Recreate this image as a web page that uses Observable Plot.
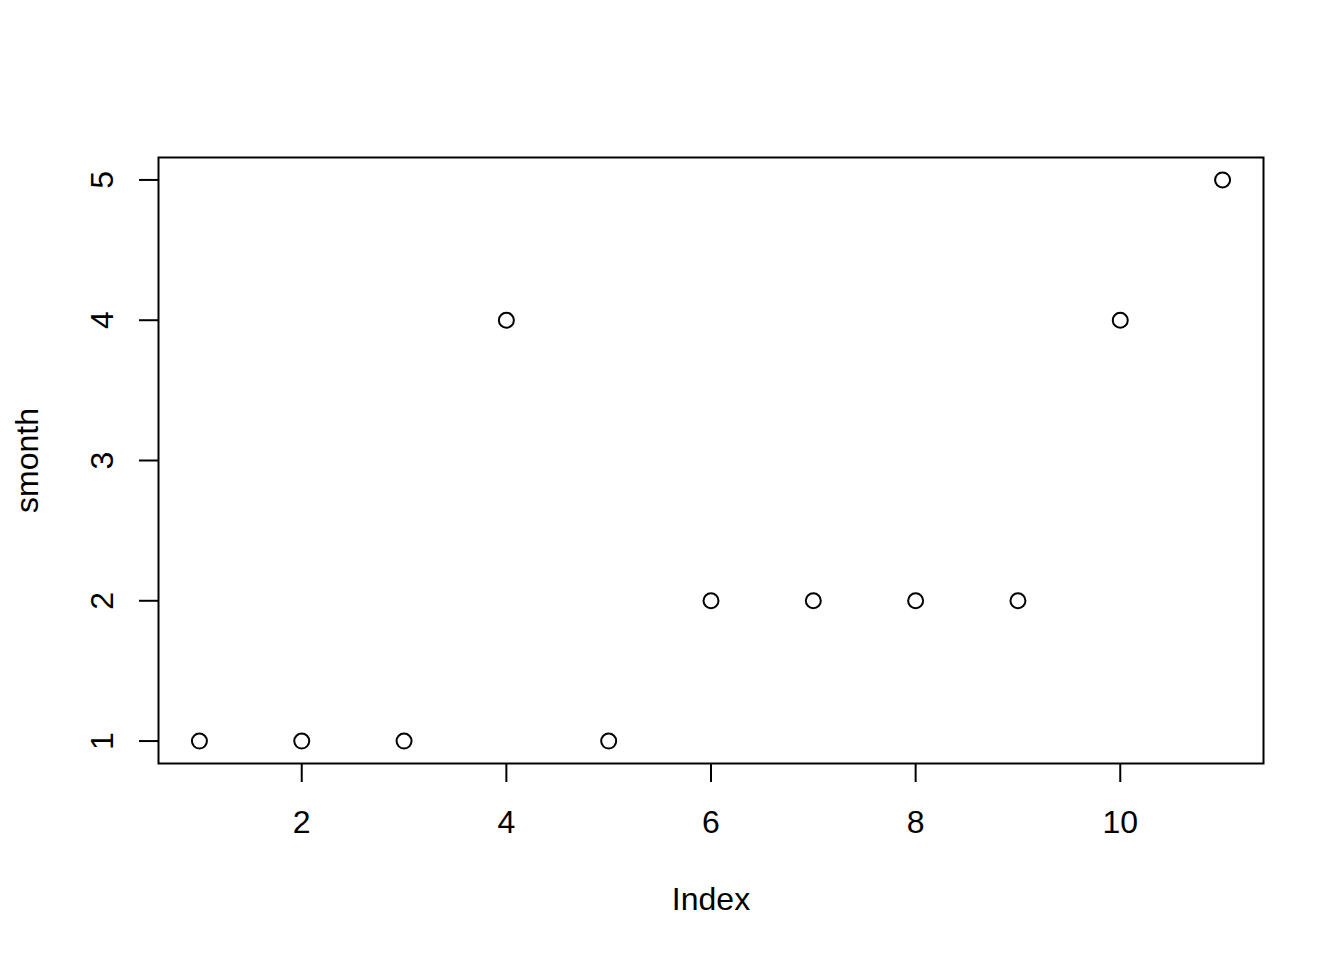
<!DOCTYPE html>
<html>
<head>
<meta charset="utf-8">
<script src="https://cdn.jsdelivr.net/npm/d3@7"></script>
<script src="https://cdn.jsdelivr.net/npm/@observablehq/plot@0.6"></script>
<style>
  html, body { margin: 0; padding: 0; background: #fff; }
</style>
</head>
<body>
<div id="chart"></div>
<script>
const index = [1, 2, 3, 4, 5, 6, 7, 8, 9, 10, 11];
const smonth = [1, 1, 1, 4, 1, 2, 2, 2, 2, 4, 5];
const xTicks = [2, 4, 6, 8, 10];
const yTicks = [1, 2, 3, 4, 5];
const xLabel = "Index";
const yLabel = "smonth";

const data = index.map((d, i) => ({index: d, smonth: smonth[i]}));

const chart = Plot.plot({
  width: 1344,
  height: 960,
  marginLeft: 158,
  marginRight: 81,
  marginTop: 157,
  marginBottom: 197,
  style: {fontFamily: "'Liberation Sans', Arial, Helvetica, sans-serif", background: "#fff", color: "#000"},
  x: {domain: [0.6, 11.4]},
  y: {domain: [0.84, 5.16]},
  marks: [
    Plot.frame({stroke: "#000", strokeWidth: 2}),
    Plot.axisX({ticks: xTicks, tickSize: 19, tickPadding: 28, fontSize: 32, label: null, strokeWidth: 2, tickFormat: d => String(d)}),
    Plot.axisY({ticks: yTicks, tickSize: 19, label: null, strokeWidth: 2, tickFormat: () => null}),
    Plot.text(yTicks, {y: d => d, text: d => String(d), frameAnchor: "left", dx: -46, rotate: -90, textAnchor: "middle", lineAnchor: "bottom", fontSize: 32, fill: "#000"}),
    Plot.text([xLabel], {text: d => d, frameAnchor: "bottom", dy: 146, lineAnchor: "bottom", fontSize: 32, fill: "#000"}),
    Plot.text([yLabel], {text: d => d, frameAnchor: "left", dx: -121, rotate: -90, textAnchor: "middle", lineAnchor: "bottom", fontSize: 32, fill: "#000"}),
    Plot.dot(data, {x: "index", y: "smonth", r: 7.5, stroke: "#000", strokeWidth: 2, fill: "none"})
  ]
});
document.getElementById("chart").appendChild(chart);
</script>
</body>
</html>
